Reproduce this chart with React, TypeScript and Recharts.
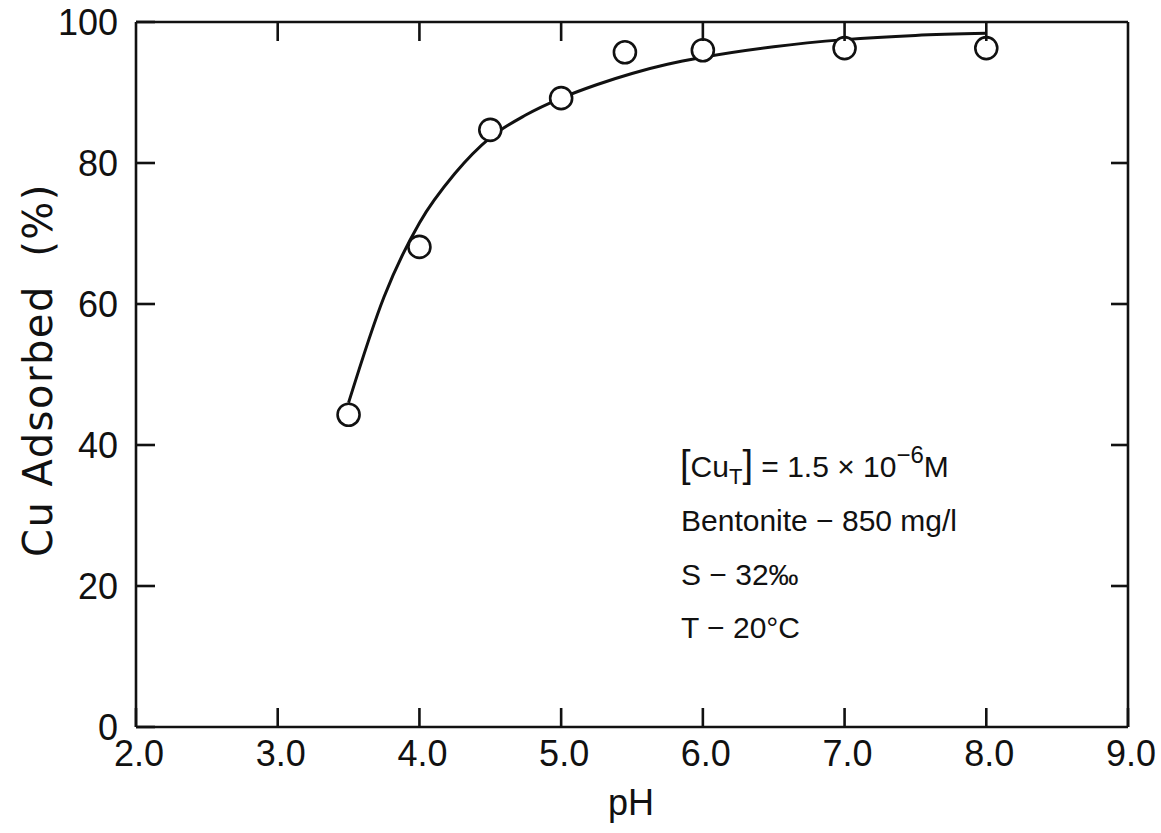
import React from 'react';
import { ComposedChart, XAxis, YAxis, Line, Scatter, Customized } from 'recharts';

// ---- data ----
const phPoints = [3.5, 4.0, 4.5, 5.0, 5.45, 6.0, 7.0, 8.0];
const cuAdsorbed = [44.3, 68.1, 84.7, 89.2, 95.7, 96.0, 96.3, 96.3];

const curvePh = [3.5, 3.75, 4.0, 4.25, 4.5, 4.75, 5.0, 5.25, 5.5, 5.75, 6.0, 6.5, 7.0, 7.5, 8.0];
const curveCu = [46, 61, 71.5, 78.5, 83.6, 86.8, 89.2, 91.1, 92.7, 94.0, 95.0, 96.5, 97.5, 98.1, 98.4];

const xTicks = [2, 3, 4, 5, 6, 7, 8, 9];
const xTickLabels = ['2.0', '3.0', '4.0', '5.0', '6.0', '7.0', '8.0', '9.0'];
const topTicks = [3, 4, 5, 6, 7, 8];
const yTicks = [0, 20, 40, 60, 80, 100];
const rightTicks = [20, 40, 60, 80];

const xLabel = 'pH';
const yLabel = 'Cu Adsorbed  (%)';
const noteLines = ['Bentonite − 850 mg/l', 'S − 32‰', 'T − 20°C'];

const scatterData = phPoints.map((x, i) => ({ x, y: cuAdsorbed[i] }));
const curveData = curvePh.map((x, i) => ({ x, y: curveCu[i] }));

// ---- layout ----
const W = 1161;
const H = 833;
const MARGIN = { top: 21, right: 32, left: 0, bottom: 0 };
const YAXIS_W = 136;
const XAXIS_H = 106;
const TOP_H = 1;
const RIGHT_W = 1;
const AXIS_LEFT = MARGIN.left + YAXIS_W;
const AXIS_BOTTOM = H - MARGIN.bottom - XAXIS_H;
const AXIS_TOP = MARGIN.top + TOP_H;
const AXIS_RIGHT = W - MARGIN.right - RIGHT_W;

const INK = '#111';
const TICK_FONT = '"Liberation Sans", Arial, sans-serif';
const TICK_LEN = 19;
const SW = 2.6;

const LeftTick = (props: any) => {
  const { y, payload } = props;
  return (
    <g>
      <line x1={AXIS_LEFT} y1={y} x2={AXIS_LEFT + TICK_LEN} y2={y} stroke={INK} strokeWidth={SW} />
      <text x={AXIS_LEFT - 18} y={y} dy="0.36em" textAnchor="end" fontSize={36} fontFamily={TICK_FONT} fill={INK}>
        {payload.value}
      </text>
    </g>
  );
};

const BottomTick = (props: any) => {
  const { x, payload } = props;
  const idx = xTicks.indexOf(payload.value);
  return (
    <g>
      <line x1={x} y1={AXIS_BOTTOM} x2={x} y2={AXIS_BOTTOM - TICK_LEN} stroke={INK} strokeWidth={SW} />
      <text x={x + 3} y={AXIS_BOTTOM + 13} dy="0.71em" textAnchor="middle" fontSize={36} fontFamily={TICK_FONT} fill={INK}>
        {idx >= 0 ? xTickLabels[idx] : payload.value}
      </text>
    </g>
  );
};

const TopTick = (props: any) => {
  const { x } = props;
  return <line x1={x} y1={AXIS_TOP} x2={x} y2={AXIS_TOP + TICK_LEN} stroke={INK} strokeWidth={SW} />;
};

const RightTick = (props: any) => {
  const { y } = props;
  return <line x1={AXIS_RIGHT} y1={y} x2={AXIS_RIGHT - 17} y2={y} stroke={INK} strokeWidth={SW} />;
};

const Circle = (props: any) => {
  const { cx, cy } = props;
  if (cx == null || cy == null) return null;
  return <circle cx={cx} cy={cy} r={11} fill="#fff" stroke={INK} strokeWidth={2.6} />;
};

const Annotations = () => {
  const fam = '"Liberation Sans", Arial, sans-serif';
  return (
    <g fill={INK} fontFamily={fam}>
      <text x={631} y={815} textAnchor="middle" fontSize={36}>{xLabel}</text>
      <text
        x={52}
        y={370}
        textAnchor="middle"
        fontSize={40}
        fontFamily='"DejaVu Sans", sans-serif'
        letterSpacing={1.5}
        transform="rotate(-90, 52, 370)"
        style={{ whiteSpace: 'pre' }}
      >
        {yLabel}
      </text>
      <text x={680} y={477} fontSize={30}>
        <tspan fontSize={38}>[</tspan>
        <tspan>Cu</tspan>
        <tspan fontSize={22} dy={7}>T</tspan>
        <tspan fontSize={38} dy={-7}>]</tspan>
        <tspan> = 1.5 × 10</tspan>
        <tspan fontSize={24} dy={-14}>−6</tspan>
        <tspan dy={14}>M</tspan>
      </text>
      {noteLines.map((t, i) => (
        <text key={t} x={681} y={531 + i * 53.5} fontSize={30}>
          {t}
        </text>
      ))}
    </g>
  );
};

const axisLineStyle = { stroke: INK, strokeWidth: SW };

export default function App() {
  return (
    <div style={{ position: 'absolute', left: 0, top: 0, background: '#fff' }}>
      <ComposedChart width={W} height={H} margin={MARGIN} style={{ overflow: 'visible' }}>
        <XAxis
          xAxisId="b"
          type="number"
          dataKey="x"
          domain={[2, 9]}
          ticks={xTicks}
          height={XAXIS_H}
          tickLine={false}
          tick={<BottomTick />}
          axisLine={axisLineStyle}
          interval={0}
          allowDataOverflow
        />
        <XAxis
          xAxisId="t"
          orientation="top"
          type="number"
          dataKey="x"
          domain={[2, 9]}
          ticks={topTicks}
          height={TOP_H}
          tickLine={false}
          tick={<TopTick />}
          axisLine={axisLineStyle}
          interval={0}
          allowDataOverflow
        />
        <YAxis
          yAxisId="l"
          type="number"
          domain={[0, 100]}
          ticks={yTicks}
          width={YAXIS_W}
          tickLine={false}
          tick={<LeftTick />}
          axisLine={axisLineStyle}
          interval={0}
          allowDataOverflow
        />
        <YAxis
          yAxisId="r"
          orientation="right"
          type="number"
          domain={[0, 100]}
          ticks={rightTicks}
          width={RIGHT_W}
          tickLine={false}
          tick={<RightTick />}
          axisLine={axisLineStyle}
          interval={0}
          allowDataOverflow
        />
        <Line
          xAxisId="t"
          yAxisId="r"
          data={curveData}
          dataKey="y"
          stroke="none"
          dot={false}
          activeDot={false}
          isAnimationActive={false}
        />
        <Line
          xAxisId="b"
          yAxisId="l"
          data={curveData}
          dataKey="y"
          type="monotone"
          stroke={INK}
          strokeWidth={3}
          dot={false}
          activeDot={false}
          isAnimationActive={false}
        />
        <Scatter
          xAxisId="b"
          yAxisId="l"
          data={scatterData}
          dataKey="y"
          shape={<Circle />}
          isAnimationActive={false}
        />
        <Customized component={<Annotations />} />
      </ComposedChart>
    </div>
  );
}
